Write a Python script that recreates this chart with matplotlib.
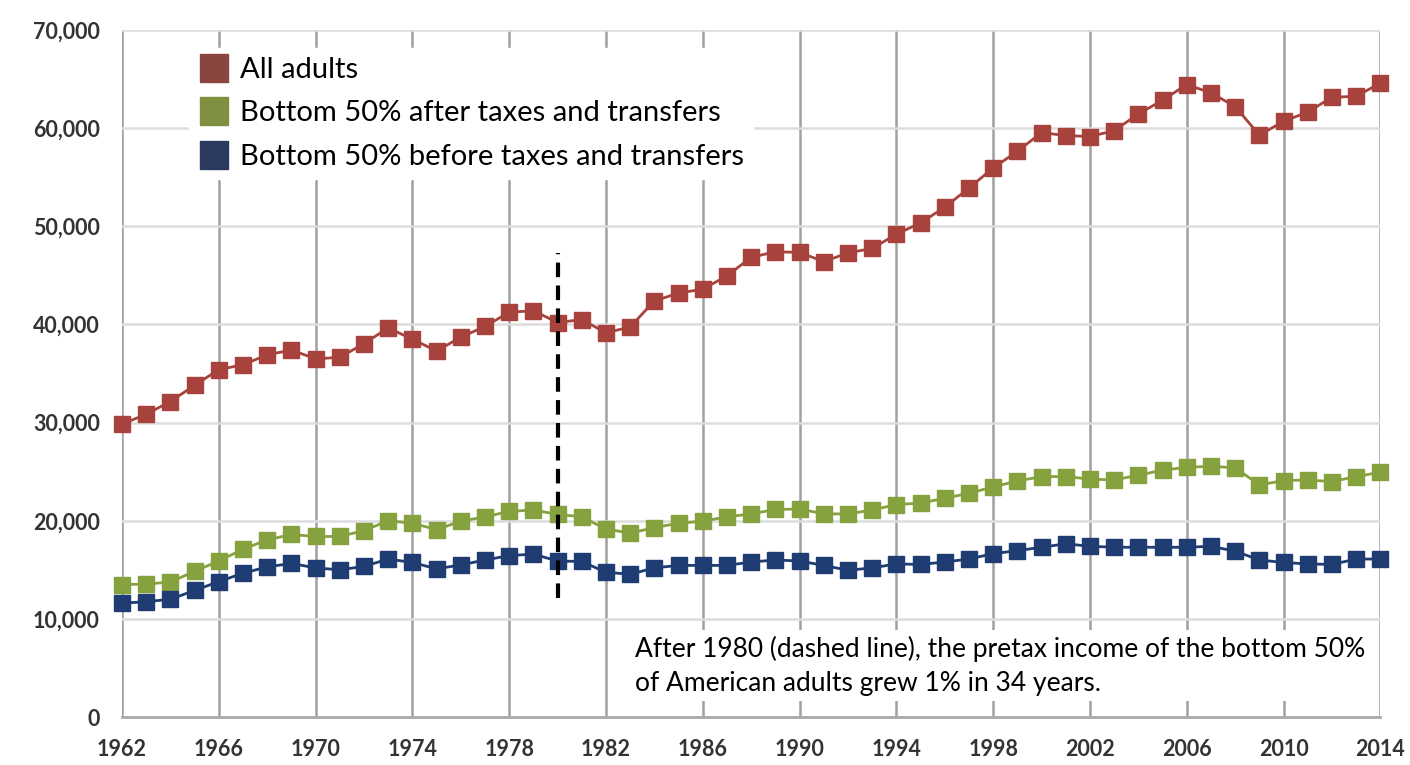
import numpy as np
import matplotlib
matplotlib.use("Agg")
import matplotlib.pyplot as plt
from matplotlib.lines import Line2D

plt.rcParams['font.family'] = ['Lato', 'DejaVu Sans']

years = np.arange(1962, 2015)

all_adults = [29850, 30850, 32150, 33800, 35400, 35900, 36900, 37400, 36500, 36650,
              38050, 39650, 38500, 37300, 38700, 39800, 41250, 41400, 40200, 40500,
              39150, 39750, 42400, 43200, 43600, 44950, 46850, 47400, 47350, 46400,
              47300, 47750, 49200, 50350, 51950, 53900, 55950, 57650, 59550, 59250,
              59150, 59750, 61450, 62850, 64450, 63600, 62200, 59300, 60700, 61650,
              63150, 63250, 64600]
after_tax = [13500, 13550, 13750, 14850, 15900, 17100, 18050, 18600, 18400, 18400,
             19000, 20000, 19750, 19100, 19950, 20400, 20950, 21100, 20650, 20400,
             19150, 18750, 19300, 19750, 19950, 20400, 20700, 21150, 21200, 20700,
             20700, 21100, 21650, 21800, 22300, 22800, 23450, 24050, 24500, 24500,
             24250, 24150, 24650, 25150, 25450, 25550, 25400, 23650, 24100, 24150,
             24000, 24500, 24950]
before_tax = [11600, 11750, 12000, 12900, 13800, 14650, 15300, 15650, 15200, 15000,
              15350, 16100, 15750, 15100, 15500, 16000, 16450, 16600, 15900, 15850,
              14750, 14550, 15200, 15450, 15450, 15450, 15800, 16000, 15900, 15450,
              14950, 15200, 15600, 15550, 15800, 16100, 16650, 16950, 17300, 17650,
              17400, 17300, 17300, 17300, 17300, 17400, 16900, 16000, 15750, 15600,
              15550, 16100, 16100]

labels = ["All adults", "Bottom 50% after taxes and transfers", "Bottom 50% before taxes and transfers"]
line_colors = ["#A8423C", "#86A23E", "#1F3C73"]
legend_colors = ["#8B4540", "#7F9140", "#2B3A5E"]
xticks = np.arange(1962, 2015, 4)
yticks = np.arange(0, 70001, 10000)
note = ("After 1980 (dashed line), the pretax income of the bottom 50%\n"
        "of American adults grew 1% in 34 years.")

fig = plt.figure(figsize=(14.1, 7.65), dpi=100)
ax = fig.add_axes([0.0865, 0.0627, 0.8925, 0.898])

for vals, c in zip([all_adults, after_tax, before_tax], line_colors):
    ax.plot(years, vals, color=c, lw=2, marker='s', markersize=11,
            markerfacecolor=c, markeredgecolor=c, clip_on=False, zorder=3)

ax.plot([1980, 1980], [12100, 47300], color='black', lw=3, ls=(0, (3.5, 2.0)), zorder=4)

ax.set_xlim(1962, 2014)
ax.set_ylim(0, 70000)
ax.set_xticks(xticks)
ax.set_yticks(yticks)
ax.set_yticklabels([f"{v:,}" for v in yticks])
ax.tick_params(length=0, labelsize=15.5, labelcolor='#333333')
ax.tick_params(axis='x', pad=16)
ax.tick_params(axis='y', pad=16)
for lab in ax.get_xticklabels() + ax.get_yticklabels():
    lab.set_fontweight('bold')

for s in ['top', 'right', 'left']:
    ax.spines[s].set_visible(False)
ax.spines['bottom'].set_color('#aaaaaa')
ax.spines['bottom'].set_linewidth(2)

ax.xaxis.grid(True, color='#a0a0a0', lw=1.8)
ax.yaxis.grid(True, color='#dddddd', lw=1.8)
ax.set_axisbelow(True)

handles = [Line2D([], [], ls='none', marker='s', markersize=20,
                  markerfacecolor=c, markeredgecolor=c) for c in legend_colors]
leg = ax.legend(handles, labels, loc='upper left', bbox_to_anchor=(0.042, 0.995),
                fontsize=21, frameon=True, framealpha=1, edgecolor='white',
                fancybox=False, handletextpad=0.35, labelspacing=0.6,
                borderpad=0.3, handlelength=1.1)
leg.set_zorder(5)

ax.text(1983.2, 8300, note, fontsize=19, color='black', va='top', ha='left',
        linespacing=1.45, zorder=5,
        bbox=dict(facecolor='white', edgecolor='none', pad=4))

fig.savefig("out.png", dpi=100)
